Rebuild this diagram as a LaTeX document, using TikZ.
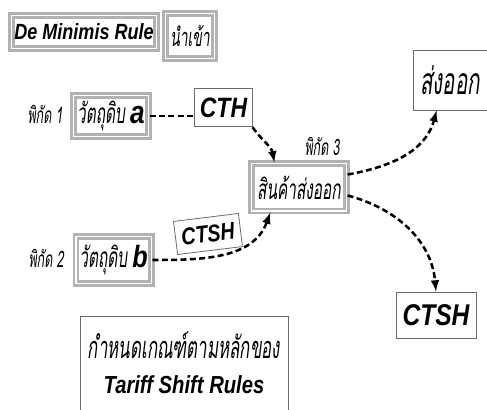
\documentclass[tikz,border=0pt]{standalone}
\usepackage{fontspec}
\usetikzlibrary{calc}
\newfontfamily\thaifont[Script=Thai,FakeSlant=0.12,FakeStretch=0.55]{Loma}
\newfontfamily\latfont[FakeStretch=0.82]{Liberation Sans}
\newcommand{\fsz}[1]{\fontsize{#1}{#1}\selectfont}

\begin{document}
\begin{tikzpicture}[x=0.75pt,y=-0.75pt,>=latex,
  graybox/.style={draw=gray!60, line width=2pt, double=white, double distance=1pt, fill=white, inner sep=0pt},
  thinbox/.style={draw=gray!85!black, line width=0.6pt, fill=white, inner sep=0pt},
  link/.style={line width=1.9pt, dash pattern=on 4.5pt off 2.5pt},
  lat/.style={font=\latfont\bfseries\itshape}]
\clip (0,0) rectangle (487,410);
\fill[white] (0,0) rectangle (487,410);
% top labels
\node[graybox, minimum width=108.5pt, minimum height=24.5pt, lat] (dm) at (84,32) {\fsz{16.5}De Minimis Rule};
\node[graybox, minimum width=36.5pt, minimum height=33.5pt] (imp) at (190,36) {\thaifont\fsz{19}นำเข้า};
% raw materials
\node (c1) at (45,114) {\thaifont\fsz{17}พิกัด 1};
\node[graybox, minimum width=56pt, minimum height=30.5pt] (rma) at (111,116) {\thaifont\fsz{21}วัตถุดิบ \latfont\bfseries\itshape\fsz{24}a};
\node (c2) at (46,258) {\thaifont\fsz{17}พิกัด 2};
\node[graybox, minimum width=56.5pt, minimum height=35pt] (rmb) at (113.5,260) {\thaifont\fsz{21}วัตถุดิบ \latfont\bfseries\itshape\fsz{23}b};
% rules
\node[thinbox, minimum width=43pt, minimum height=29pt, lat] (cth) at (223.5,107.5) {\fsz{21}CTH};
\node[thinbox, minimum width=49pt, minimum height=25pt, lat, rotate=7] (ctshr) at (208,234) {\fsz{18}CTSH};
% product
\node (c3) at (322,146) {\thaifont\fsz{17}พิกัด 3};
\node[graybox, minimum width=71pt, minimum height=35.5pt] (prod) at (299,187.5) {\thaifont\fsz{21}สินค้าส่งออก};
\node[thinbox, minimum width=55.5pt, minimum height=45pt] (exp) at (450,80) {\thaifont\fsz{28}ส่งออก};
\node[thinbox, minimum width=60pt, minimum height=34.5pt, lat] (ctsh) at (436,315) {\fsz{22.5}CTSH};
\node[thinbox, minimum width=156pt, minimum height=78pt] (rules) at (184,368) {};
\node (rl1) at (184,345) {\thaifont\fsz{23}กำหนดเกณฑ์ตามหลักของ};
\node[lat] (rl2) at (184,385) {\fsz{18.5}Tariff Shift Rules};
% connectors
\draw[link] (rma.east) -- (rma.east -| cth.west);
\draw[link,->] (cth.south east) to[out=-55,in=100] ($(prod.north west)+(24,0)$);
\draw[link,->] (rmb.east) to[out=0,in=-110] ($(prod.south west)+(20,0)$);
\draw[link,->] ($(prod.east)+(0,-13)$) to[out=10,in=-105] ($(exp.south west)+(24,0)$);
\draw[link,->] ($(prod.east)+(0,8)$) to[out=-15,in=95] (ctsh.north);
\end{tikzpicture}
\end{document}
